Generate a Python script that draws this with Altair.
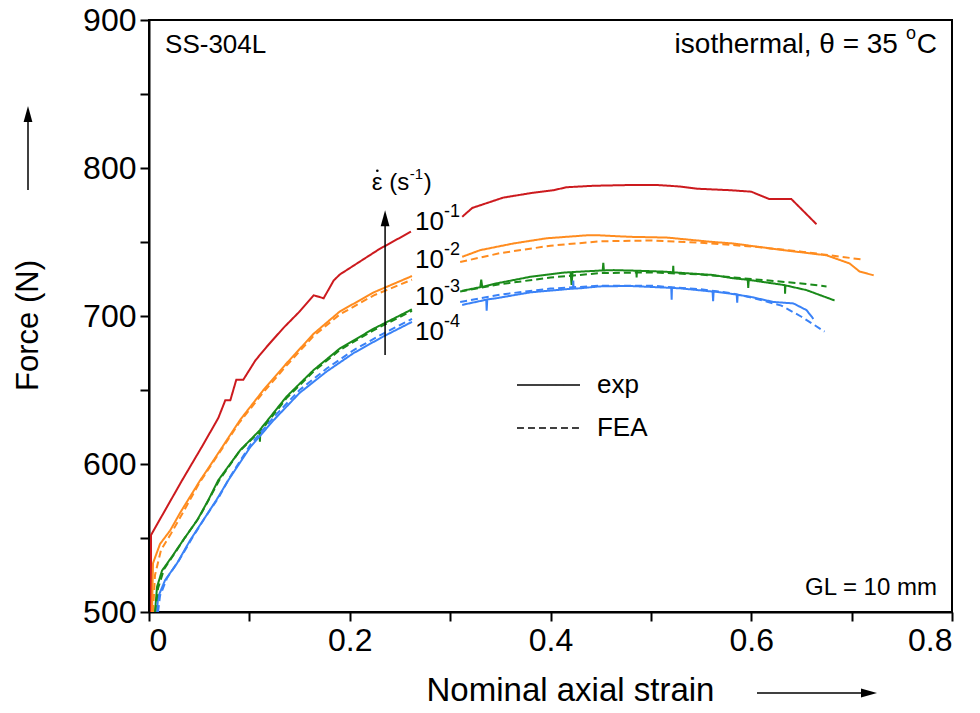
import altair as alt
import pandas as pd

RATES = ["1e-1", "1e-2", "1e-3", "1e-4"]
COLORS = ["#cc1a1e", "#ff8c1f", "#1a8a1a", "#3a82f7"]

# ---------------- experimental curves (two segments each: before/after label gap)
RED_EXP_A_X = [0.002, 0.002, 0.033, 0.053, 0.069, 0.076, 0.081, 0.087, 0.094, 0.106, 0.117, 0.134, 0.150, 0.164, 0.174, 0.184, 0.190, 0.229, 0.261]
RED_EXP_A_F = [500, 552, 589, 612, 631, 643, 643, 657, 657, 670, 679, 692, 703, 714, 712, 724, 728, 745, 757]
RED_EXP_B_X = [0.312, 0.322, 0.353, 0.380, 0.403, 0.416, 0.443, 0.479, 0.506, 0.529, 0.546, 0.579, 0.600, 0.618, 0.640, 0.665]
RED_EXP_B_F = [767, 773, 780, 783, 785, 787, 788, 788.5, 788.5, 787.5, 786, 785, 784, 779, 779, 762]

ORA_EXP_A_X = [0.003, 0.004, 0.011, 0.021, 0.031, 0.041, 0.051, 0.058, 0.091, 0.114, 0.137, 0.164, 0.190, 0.224, 0.262]
ORA_EXP_A_F = [500, 533, 546, 555, 567, 578, 589, 596, 630, 650, 668, 688, 703, 716, 727]
ORA_EXP_B_X = [0.312, 0.330, 0.363, 0.396, 0.436, 0.449, 0.479, 0.516, 0.562, 0.582, 0.632, 0.675, 0.698, 0.708, 0.722]
ORA_EXP_B_F = [740, 744.5, 749, 752.5, 754.5, 754.5, 753.5, 753, 750, 749, 744.5, 741, 735.5, 730, 727.5]

GRN_EXP_A_X = [0.006, 0.008, 0.013, 0.023, 0.034, 0.048, 0.059, 0.069, 0.091, 0.110, 0.1105, 0.111, 0.137, 0.164, 0.190, 0.224, 0.262]
GRN_EXP_A_F = [500, 517, 528, 537.5, 548.5, 562, 575.5, 589, 609.5, 622.5, 615, 623.5, 645.5, 663.5, 678, 691.5, 704.5]
GRN_EXP_B_X = [0.312, 0.330, 0.331, 0.332, 0.346, 0.380, 0.413, 0.420, 0.421, 0.422, 0.452, 0.4526, 0.4532, 0.463, 0.4855, 0.4858, 0.4861, 0.512, 0.5220, 0.5223, 0.5226, 0.562, 0.582, 0.5965, 0.597, 0.5975, 0.632, 0.6335, 0.6337, 0.634, 0.655, 0.683]
GRN_EXP_B_F = [717, 719.5, 724.5, 719.7, 722, 726.5, 729.3, 729.6, 721, 729.7, 730.8, 736, 730.8, 731, 730.6, 726, 730.6, 730, 729.6, 734, 729.5, 727.7, 725.5, 724.5, 719, 724.4, 721, 720.8, 715, 720.7, 717.5, 710.5]

BLU_EXP_A_X = [0.008, 0.009, 0.016, 0.028, 0.041, 0.054, 0.067, 0.079, 0.101, 0.124, 0.150, 0.177, 0.204, 0.233, 0.262]
BLU_EXP_A_F = [500, 510, 521.5, 533, 548.5, 562, 575.5, 589, 611.5, 629.5, 648, 662.5, 675, 686, 696]
BLU_EXP_B_X = [0.312, 0.336, 0.3364, 0.337, 0.346, 0.380, 0.4225, 0.4227, 0.423, 0.429, 0.449, 0.479, 0.5203, 0.5207, 0.521, 0.529, 0.5615, 0.562, 0.5625, 0.566, 0.5855, 0.586, 0.5865, 0.599, 0.622, 0.642, 0.655, 0.662]
BLU_EXP_B_F = [707.5, 711, 703.5, 711.2, 712, 716, 718.5, 724, 718.5, 718.7, 720, 720.3, 719, 711, 719, 718.7, 716.5, 710, 716.4, 716.3, 714.5, 709, 714.3, 713, 709.5, 708.5, 704, 698]

# ---------------- FEA curves (dashed)
ORA_FEA_A_X = [0.004, 0.006, 0.012, 0.022, 0.032, 0.050, 0.090, 0.114, 0.137, 0.164, 0.190, 0.224, 0.262]
ORA_FEA_A_F = [500, 525, 542, 553, 565, 587, 628, 648.5, 666.5, 686.5, 701, 714, 724.5]
ORA_FEA_B_X = [0.31, 0.35, 0.40, 0.45, 0.50, 0.55, 0.60, 0.65, 0.69, 0.712]
ORA_FEA_B_F = [736.5, 742.5, 747.5, 750.5, 751, 749.5, 747, 743.5, 740, 738]

GRN_FEA_A_X = [0.006, 0.009, 0.015, 0.025, 0.035, 0.050, 0.070, 0.090, 0.114, 0.137, 0.164, 0.190, 0.224, 0.262]
GRN_FEA_A_F = [500, 516, 529, 539, 549.5, 564, 589, 608.5, 624.5, 644.5, 662.5, 677, 690.5, 703.5]
GRN_FEA_B_X = [0.31, 0.35, 0.40, 0.45, 0.50, 0.55, 0.60, 0.65, 0.675]
GRN_FEA_B_F = [716.5, 721.5, 726, 729, 729.5, 728, 725, 722, 720]

BLU_FEA_A_X = [0.009, 0.011, 0.018, 0.030, 0.043, 0.056, 0.070, 0.080, 0.101, 0.124, 0.150, 0.177, 0.204, 0.233, 0.262]
BLU_FEA_A_F = [500, 511, 523, 535, 550, 564, 578, 590.5, 613, 631.5, 650, 664.5, 677, 688, 698]
BLU_FEA_B_X = [0.31, 0.35, 0.40, 0.45, 0.50, 0.55, 0.58, 0.60, 0.63, 0.65, 0.673]
BLU_FEA_B_F = [709.5, 714.5, 718.5, 720.5, 720.5, 718, 715.5, 712.5, 707, 699.5, 689.5]

# ---------------- annotation labels
RATE_EXPONENTS = ["-1", "-2", "-3", "-4"]
RATE_LABEL_F = [763.5, 737.8, 712.8, 689.2]
RATE_LABEL_X = 0.265

X_TICKS = [0, 0.1, 0.2, 0.3, 0.4, 0.5, 0.6, 0.7, 0.8]
Y_TICKS = [500, 550, 600, 650, 700, 750, 800, 850, 900]

FONT = "Liberation Sans"

rows = []


def add(rate, kind, seg, xs, fs):
    for i, (x, f) in enumerate(zip(xs, fs)):
        rows.append(dict(rate=rate, kind=kind, seg=f"{rate}-{kind}-{seg}", idx=i, strain=x, force=f))


add("1e-1", "exp", "A", RED_EXP_A_X, RED_EXP_A_F)
add("1e-1", "exp", "B", RED_EXP_B_X, RED_EXP_B_F)
add("1e-2", "exp", "A", ORA_EXP_A_X, ORA_EXP_A_F)
add("1e-2", "exp", "B", ORA_EXP_B_X, ORA_EXP_B_F)
add("1e-3", "exp", "A", GRN_EXP_A_X, GRN_EXP_A_F)
add("1e-3", "exp", "B", GRN_EXP_B_X, GRN_EXP_B_F)
add("1e-4", "exp", "A", BLU_EXP_A_X, BLU_EXP_A_F)
add("1e-4", "exp", "B", BLU_EXP_B_X, BLU_EXP_B_F)
add("1e-2", "FEA", "A", ORA_FEA_A_X, ORA_FEA_A_F)
add("1e-2", "FEA", "B", ORA_FEA_B_X, ORA_FEA_B_F)
add("1e-3", "FEA", "A", GRN_FEA_A_X, GRN_FEA_A_F)
add("1e-3", "FEA", "B", GRN_FEA_B_X, GRN_FEA_B_F)
add("1e-4", "FEA", "A", BLU_FEA_A_X, BLU_FEA_A_F)
add("1e-4", "FEA", "B", BLU_FEA_B_X, BLU_FEA_B_F)
df = pd.DataFrame(rows)

x_enc = alt.X(
    "strain:Q",
    scale=alt.Scale(domain=[0, 0.8], nice=False, zero=False),
    axis=alt.Axis(
        values=X_TICKS,
        labelExpr="round(datum.value*10) % 2 == 0 ? (datum.value == 0 ? '0' : format(datum.value, '.1f')) : ''",
        title="Nominal axial strain",
        titleX=421, titleY=78, titleBaseline="middle", titleAlign="center", titleFontSize=33,
    ),
)
y_enc = alt.Y(
    "force:Q",
    scale=alt.Scale(domain=[500, 900], nice=False, zero=False),
    axis=alt.Axis(
        values=Y_TICKS,
        labelExpr="datum.value % 100 == 0 ? format(datum.value, 'd') : ''",
        title="Force (N)",
        titleX=-121, titleY=305, titleBaseline="middle", titleAlign="center", titleAngle=270,
    ),
)

lines = alt.Chart(df).mark_line(clip=True, strokeWidth=2).encode(
    x=x_enc,
    y=y_enc,
    color=alt.Color("rate:N", scale=alt.Scale(domain=RATES, range=COLORS), legend=None),
    strokeDash=alt.StrokeDash("kind:N", scale=alt.Scale(domain=["exp", "FEA"], range=[[1, 0], [7, 4]]), legend=None),
    detail="seg:N",
    order="idx:Q",
)


def text_layer(df_, size, align="left", dx=0, dy=0, baseline="middle"):
    return alt.Chart(df_).mark_text(
        font=FONT, fontSize=size, align=align, baseline=baseline, dx=dx, dy=dy, color="black"
    ).encode(x=x_enc, y=y_enc, text="label:N")


rate_base = pd.DataFrame({"strain": [RATE_LABEL_X] * 4, "force": RATE_LABEL_F, "label": ["10"] * 4})
rate_exp = pd.DataFrame({"strain": [RATE_LABEL_X] * 4, "force": RATE_LABEL_F, "label": RATE_EXPONENTS})

eps_df = pd.DataFrame({"strain": [0.222], "force": [790.0], "label": ["\u03b5 (s"]})

layers = [
    lines,
    text_layer(rate_base, 26),
    text_layer(rate_exp, 18, dx=29, dy=-10),
    text_layer(pd.DataFrame({"strain": [0.016], "force": [883.0], "label": ["SS-304L"]}), 26),
    text_layer(pd.DataFrame({"strain": [0.785], "force": [883.0], "label": ["C"]}), 28, align="right"),
    text_layer(pd.DataFrame({"strain": [0.785], "force": [883.0], "label": ["o"]}), 18, align="right", dx=-21, dy=-11),
    text_layer(pd.DataFrame({"strain": [0.785], "force": [883.0], "label": ["isothermal, \u03b8 = 35"]}), 28, align="right", dx=-39),
    text_layer(pd.DataFrame({"strain": [0.785], "force": [516.0], "label": ["GL = 10 mm"]}), 24, align="right"),
    text_layer(pd.DataFrame({"strain": [0.4463, 0.4463], "force": [653.4, 624.3], "label": ["exp", "FEA"]}), 26),
    text_layer(eps_df, 24),
    text_layer(pd.DataFrame({"strain": [0.222], "force": [790.0], "label": ["-1"]}), 15, dx=38, dy=-9),
    text_layer(pd.DataFrame({"strain": [0.222], "force": [790.0], "label": [")"]}), 24, dx=52),
    alt.Chart(eps_df).mark_circle(size=7, color="black", opacity=1, xOffset=5.5, yOffset=-12).encode(x=x_enc, y=y_enc),
]

# legend line samples
leg = pd.DataFrame({"strain": [0.3666, 0.3666], "strain2": [0.4294, 0.4294], "force": [653.4, 624.3], "kind": ["exp", "FEA"]})
legend_rules = alt.Chart(leg).mark_rule(color="black", strokeWidth=1.5).encode(
    x=x_enc, x2="strain2:Q", y=y_enc,
    strokeDash=alt.StrokeDash("kind:N", scale=alt.Scale(domain=["exp", "FEA"], range=[[1, 0], [7, 4]]), legend=None),
)
layers.append(legend_rules)

# strain-rate arrow
arr = pd.DataFrame({"strain": [0.2352], "force": [673.6], "force2": [766.0]})
layers.append(alt.Chart(arr).mark_rule(color="black", strokeWidth=1.5).encode(x=x_enc, y=y_enc, y2="force2:Q"))
layers.append(alt.Chart(arr).mark_point(shape="M0,-1L-0.55,1L0.55,1Z", size=256, filled=True, color="black", opacity=1).encode(
    x=x_enc, y=alt.Y("force2:Q", scale=alt.Scale(domain=[500, 900], nice=False, zero=False))))

# axis-direction arrows (decorations outside the plot area)
layers.append(alt.Chart(arr).mark_rule(color="black", strokeWidth=1.5).encode(
    x=alt.value(608), x2=alt.value(716), y=alt.value(673)))
layers.append(alt.Chart(arr).mark_point(shape="M1,0L-1,-0.55L-1,0.55Z", size=256, filled=True, color="black", opacity=1).encode(
    x=alt.value(720), y=alt.value(673)))
layers.append(alt.Chart(arr).mark_rule(color="black", strokeWidth=1.5).encode(
    x=alt.value(-121), y=alt.value(98), y2=alt.value(170)))
layers.append(alt.Chart(arr).mark_point(shape="M0,-1L-0.55,1L0.55,1Z", size=256, filled=True, color="black", opacity=1).encode(
    x=alt.value(-121), y=alt.value(94)))

chart = alt.layer(*layers).properties(
    width=803, height=592,
    autosize=alt.AutoSizeParams(type="none"),
    padding={"left": 141, "top": 12, "right": 20, "bottom": 100},
).configure_view(stroke="black", strokeWidth=2).configure_axis(
    grid=False, tickSize=9, tickWidth=2, tickColor="black", domainColor="black", domainWidth=2,
    labelFont=FONT, labelFontSize=32, labelColor="black", labelPadding=4,
    titleFont=FONT, titleFontSize=31, titleFontWeight="normal", titleColor="black",
)

chart.save("out.html", embed_options={"renderer": "svg", "actions": False})
